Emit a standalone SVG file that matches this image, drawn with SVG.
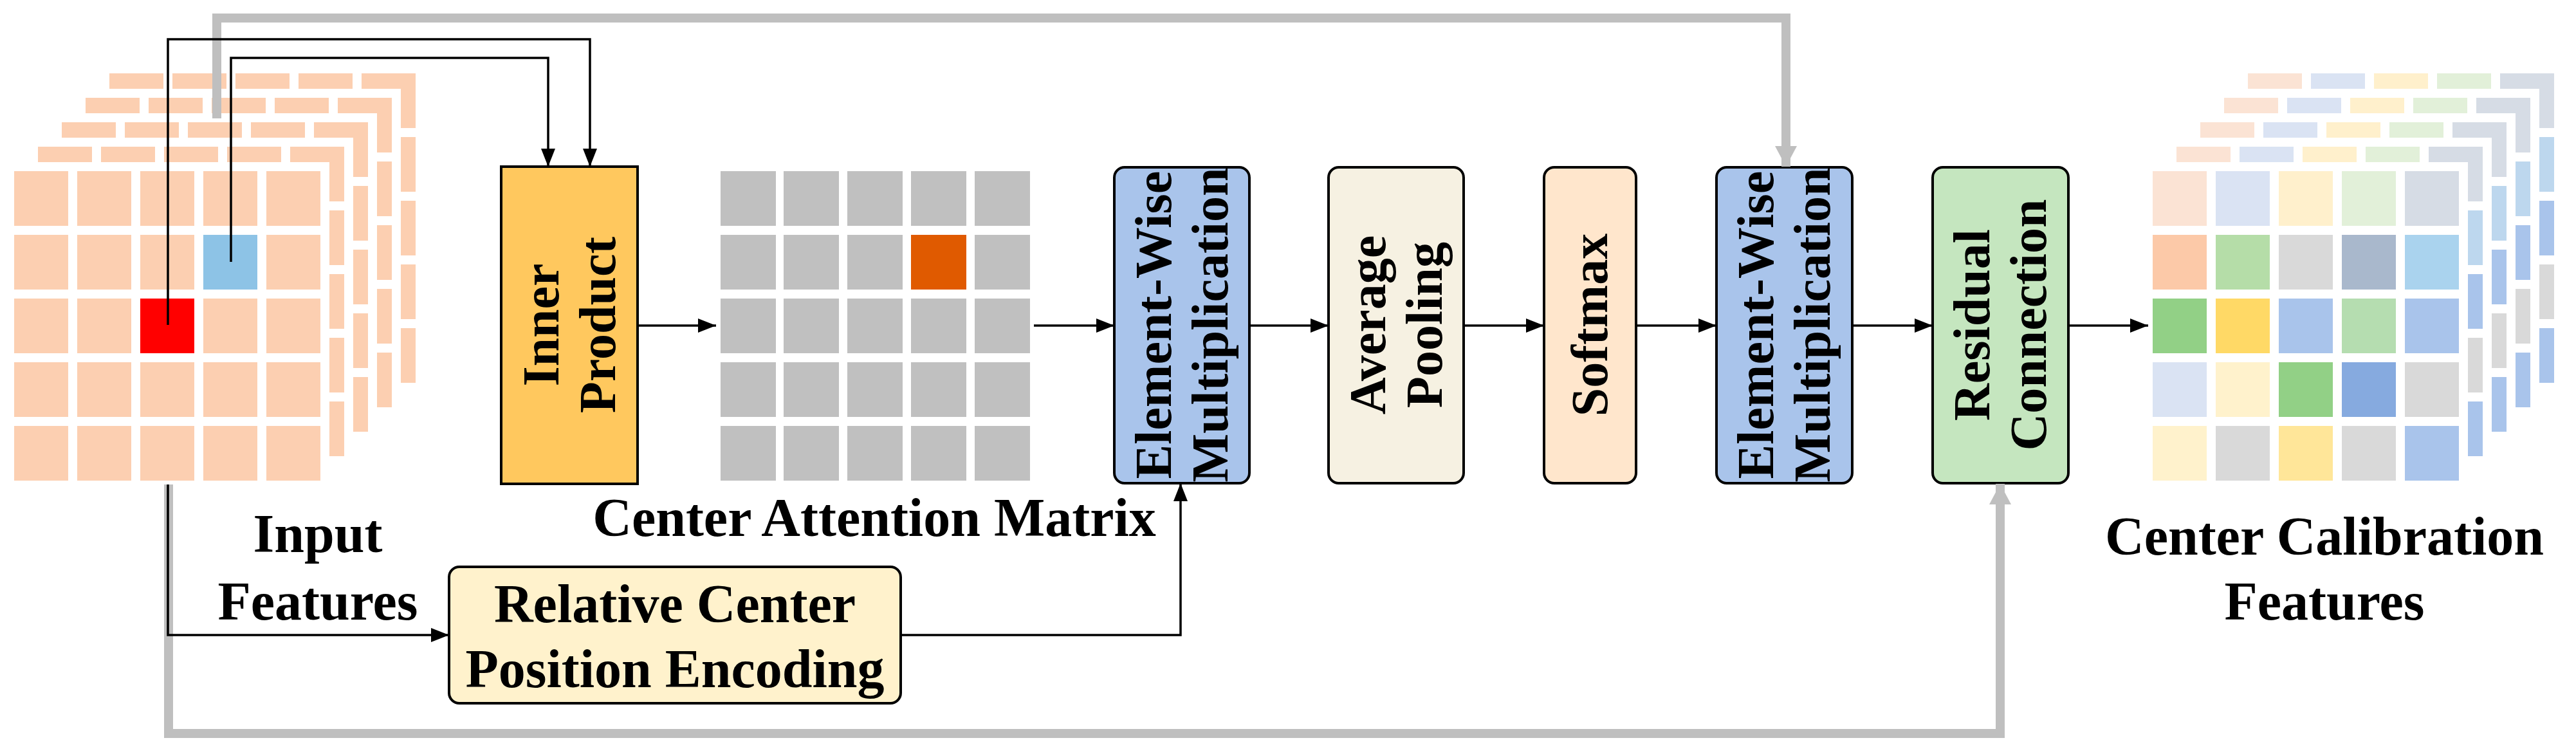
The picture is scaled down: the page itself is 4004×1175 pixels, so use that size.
<svg xmlns="http://www.w3.org/2000/svg" xmlns:xlink="http://www.w3.org/1999/xlink" width="4004" height="1175" viewBox="0 0 4004 1175">
<style>
.box{stroke:#000;stroke-width:4}
.lbl{font-family:"Liberation Serif","Times New Roman",serif;font-weight:bold;font-size:80px;fill:#000;text-anchor:middle}
.cap{font-family:"Liberation Serif","Times New Roman",serif;font-weight:bold;font-size:84px;fill:#000;text-anchor:middle}
.bl{fill:none;stroke:#000;stroke-width:3.5}
.gl{fill:none;stroke:#BFBFBF;stroke-width:14}
.pc{fill:#FCCFB1}
.gc{fill:#C0C0C0}
</style>
<defs>
<marker id="ah" markerUnits="userSpaceOnUse" markerWidth="30" markerHeight="24" refX="28" refY="11" orient="auto"><path d="M0,0 L28,11 L0,22 z" fill="#000"/></marker>
<marker id="gh" markerUnits="userSpaceOnUse" markerWidth="34" markerHeight="36" refX="32" refY="17" orient="auto"><path d="M0,0 L32,17 L0,34 z" fill="#BFBFBF"/></marker>
<g id="inLayer">
<rect x="0" y="-14" width="490" height="495" fill="#fff"/>
<g class="pc">
<rect x="0" y="0" width="84" height="85"/><rect x="98" y="0" width="84" height="85"/><rect x="196" y="0" width="84" height="85"/><rect x="294" y="0" width="84" height="85"/><rect x="392" y="0" width="84" height="85"/>
<rect x="0" y="99" width="84" height="85"/><rect x="98" y="99" width="84" height="85"/><rect x="196" y="99" width="84" height="85"/><rect x="294" y="99" width="84" height="85"/><rect x="392" y="99" width="84" height="85"/>
<rect x="0" y="198" width="84" height="85"/><rect x="98" y="198" width="84" height="85"/><rect x="196" y="198" width="84" height="85"/><rect x="294" y="198" width="84" height="85"/><rect x="392" y="198" width="84" height="85"/>
<rect x="0" y="297" width="84" height="85"/><rect x="98" y="297" width="84" height="85"/><rect x="196" y="297" width="84" height="85"/><rect x="294" y="297" width="84" height="85"/><rect x="392" y="297" width="84" height="85"/>
<rect x="0" y="396" width="84" height="85"/><rect x="98" y="396" width="84" height="85"/><rect x="196" y="396" width="84" height="85"/><rect x="294" y="396" width="84" height="85"/><rect x="392" y="396" width="84" height="85"/>
</g>
</g>
<g id="outLayer">
<rect x="0" y="-14" width="490" height="495" fill="#fff"/>
<rect x="0" y="0" width="84" height="85" fill="#FBE3D4"/><rect x="98" y="0" width="84" height="85" fill="#DAE3F3"/><rect x="196" y="0" width="84" height="85" fill="#FFF0CC"/><rect x="294" y="0" width="84" height="85" fill="#E2F0D9"/><rect x="392" y="0" width="84" height="85" fill="#D6DCE5"/>
<rect x="392" y="99" width="84" height="85" fill="#BDD7EE"/><rect x="392" y="198" width="84" height="85" fill="#A9C4EB"/><rect x="392" y="297" width="84" height="85" fill="#D9D9D9"/><rect x="392" y="396" width="84" height="85" fill="#A9C4EB"/>
</g>
</defs>
<rect width="4004" height="1175" fill="#fff"/>

<g id="input-features">
<use xlink:href="#inLayer" x="170" y="114"/>
<use xlink:href="#inLayer" x="133" y="152"/>
<use xlink:href="#inLayer" x="96" y="190"/>
<use xlink:href="#inLayer" x="59" y="228"/>
<use xlink:href="#inLayer" x="22" y="266"/>
<rect x="218" y="464" width="84" height="85" fill="#FF0000"/>
<rect x="316" y="365" width="84" height="85" fill="#8DC3E6"/>
<text class="cap" x="494" y="858">Input</text>
<text class="cap" x="494" y="963">Features</text>
</g>

<g id="inner-product">
<rect class="box" x="779" y="259" width="212" height="493" fill="#FFC85E"/>
<text class="lbl" transform="translate(885,505) rotate(-90)"><tspan x="0" y="-17">Inner</tspan><tspan x="0" y="71">Product</tspan></text>
</g>

<g id="attention-matrix">
<g class="gc">
<rect x="1120" y="266" width="86" height="85"/><rect x="1218" y="266" width="86" height="85"/><rect x="1317" y="266" width="86" height="85"/><rect x="1416" y="266" width="86" height="85"/><rect x="1515" y="266" width="86" height="85"/>
<rect x="1120" y="365" width="86" height="85"/><rect x="1218" y="365" width="86" height="85"/><rect x="1317" y="365" width="86" height="85"/><rect x="1515" y="365" width="86" height="85"/>
<rect x="1120" y="464" width="86" height="85"/><rect x="1218" y="464" width="86" height="85"/><rect x="1317" y="464" width="86" height="85"/><rect x="1416" y="464" width="86" height="85"/><rect x="1515" y="464" width="86" height="85"/>
<rect x="1120" y="563" width="86" height="85"/><rect x="1218" y="563" width="86" height="85"/><rect x="1317" y="563" width="86" height="85"/><rect x="1416" y="563" width="86" height="85"/><rect x="1515" y="563" width="86" height="85"/>
<rect x="1120" y="662" width="86" height="85"/><rect x="1218" y="662" width="86" height="85"/><rect x="1317" y="662" width="86" height="85"/><rect x="1416" y="662" width="86" height="85"/><rect x="1515" y="662" width="86" height="85"/>
</g>
<rect x="1416" y="365" width="86" height="85" fill="#E05A00"/>
<text class="cap" x="1359" y="833">Center Attention Matrix</text>
</g>

<g id="relative-position">
<rect class="box" x="698" y="881" width="702" height="212" rx="16" fill="#FFF2CC"/>
<text class="cap" x="1049" y="967">Relative Center</text>
<text class="cap" x="1049" y="1068">Position Encoding</text>
</g>

<g id="elementwise-1">
<rect class="box" x="1732" y="260" width="210" height="491" rx="16" fill="#A9C4EB"/>
<text class="lbl" transform="translate(1837,505) rotate(-90)"><tspan x="0" y="-17">Element-Wise</tspan><tspan x="0" y="71">Multiplication</tspan></text>
</g>

<g id="average-pooling">
<rect class="box" x="2065" y="260" width="210" height="491" rx="16" fill="#F6F1E2"/>
<text class="lbl" transform="translate(2170,505) rotate(-90)"><tspan x="0" y="-17">Average</tspan><tspan x="0" y="71">Pooling</tspan></text>
</g>

<g id="softmax">
<rect class="box" x="2400" y="260" width="143" height="491" rx="16" fill="#FFE6CC"/>
<text class="lbl" transform="translate(2471,505) rotate(-90)"><tspan x="0" y="27">Softmax</tspan></text>
</g>

<g id="elementwise-2">
<rect class="box" x="2668" y="260" width="211" height="491" rx="16" fill="#A9C4EB"/>
<text class="lbl" transform="translate(2773,505) rotate(-90)"><tspan x="0" y="-17">Element-Wise</tspan><tspan x="0" y="71">Multiplication</tspan></text>
</g>

<g id="residual">
<rect class="box" x="3004" y="260" width="211" height="491" rx="16" fill="#C5E6BF"/>
<text class="lbl" transform="translate(3109,505) rotate(-90)"><tspan x="0" y="-17">Residual</tspan><tspan x="0" y="71">Connection</tspan></text>
</g>

<g id="output-features">
<use xlink:href="#outLayer" x="3494" y="114"/>
<use xlink:href="#outLayer" x="3457" y="152"/>
<use xlink:href="#outLayer" x="3420" y="190"/>
<use xlink:href="#outLayer" x="3383" y="228"/>
<rect x="3346" y="252" width="490" height="495" fill="#fff"/>
<rect x="3346" y="266" width="84" height="85" fill="#FBE3D4"/><rect x="3444" y="266" width="84" height="85" fill="#DAE3F3"/><rect x="3542" y="266" width="84" height="85" fill="#FFF0CC"/><rect x="3640" y="266" width="84" height="85" fill="#E2F0D9"/><rect x="3738" y="266" width="84" height="85" fill="#D6DCE5"/>
<rect x="3346" y="365" width="84" height="85" fill="#FCC9A8"/><rect x="3444" y="365" width="84" height="85" fill="#B5DDA8"/><rect x="3542" y="365" width="84" height="85" fill="#D9D9D9"/><rect x="3640" y="365" width="84" height="85" fill="#A9B8CC"/><rect x="3738" y="365" width="84" height="85" fill="#AAD3EE"/>
<rect x="3346" y="464" width="84" height="85" fill="#92D086"/><rect x="3444" y="464" width="84" height="85" fill="#FFD966"/><rect x="3542" y="464" width="84" height="85" fill="#A9C4EB"/><rect x="3640" y="464" width="84" height="85" fill="#B5DDB0"/><rect x="3738" y="464" width="84" height="85" fill="#A9C4EB"/>
<rect x="3346" y="563" width="84" height="85" fill="#DAE3F3"/><rect x="3444" y="563" width="84" height="85" fill="#FFF2CC"/><rect x="3542" y="563" width="84" height="85" fill="#92D086"/><rect x="3640" y="563" width="84" height="85" fill="#86AADF"/><rect x="3738" y="563" width="84" height="85" fill="#D9D9D9"/>
<rect x="3346" y="662" width="84" height="85" fill="#FFF2CC"/><rect x="3444" y="662" width="84" height="85" fill="#D9D9D9"/><rect x="3542" y="662" width="84" height="85" fill="#FFE699"/><rect x="3640" y="662" width="84" height="85" fill="#D9D9D9"/><rect x="3738" y="662" width="84" height="85" fill="#A9C4EB"/>
<text class="cap" x="3613" y="862">Center Calibration</text>
<text class="cap" x="3613" y="963">Features</text>
</g>

<g id="connectors">
<path class="gl" d="M337,184 V28 H2776 V259" marker-end="url(#gh)"/>
<path class="gl" d="M262,753 V1140 H3109 V752" marker-end="url(#gh)"/>
<path class="bl" d="M261,505 V61 H917 V259" marker-end="url(#ah)"/>
<path class="bl" d="M359,407 V90 H852 V259" marker-end="url(#ah)"/>
<path class="bl" d="M261,753 V987 H698" marker-end="url(#ah)"/>
<path class="bl" d="M991,506 H1113" marker-end="url(#ah)"/>
<path class="bl" d="M1607,506 H1732" marker-end="url(#ah)"/>
<path class="bl" d="M1400,987 H1835 V751" marker-end="url(#ah)"/>
<path class="bl" d="M1942,506 H2065" marker-end="url(#ah)"/>
<path class="bl" d="M2275,506 H2400" marker-end="url(#ah)"/>
<path class="bl" d="M2543,506 H2668" marker-end="url(#ah)"/>
<path class="bl" d="M2879,506 H3004" marker-end="url(#ah)"/>
<path class="bl" d="M3215,506 H3339" marker-end="url(#ah)"/>
</g>
</svg>
